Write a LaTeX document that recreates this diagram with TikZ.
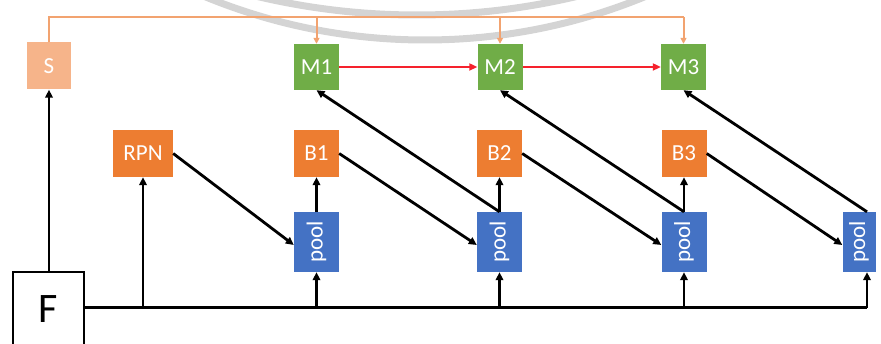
\documentclass[tikz,border=0pt]{standalone}
\usepackage{fontspec}
\setmainfont{Carlito}
\usetikzlibrary{arrows.meta}

\definecolor{boxgreen}{HTML}{70AD47}
\definecolor{boxorange}{HTML}{ED7D31}
\definecolor{boxblue}{HTML}{4472C4}
\definecolor{lightorange}{HTML}{F6B48A}
\definecolor{linkorange}{HTML}{F2A370}
\definecolor{linkred}{HTML}{F5222D}
\definecolor{ringgray}{HTML}{D4D4D4}

\tikzset{
  unit/.style={inner sep=0pt, text=white, font=\fontsize{23pt}{23pt}\selectfont},
  mbox/.style={unit, fill=boxgreen, minimum width=45pt, minimum height=46pt},
  bbox/.style={unit, fill=boxorange, minimum width=45pt, minimum height=47pt},
  pbox/.style={unit, fill=boxblue, minimum width=45pt, minimum height=60pt},
  sbox/.style={unit, fill=lightorange, minimum width=44pt, minimum height=47pt},
  fbox/.style={draw=black, line width=2.8pt, fill=white, inner sep=0pt,
               minimum width=71pt, minimum height=75pt,
               font=\fontsize{42pt}{42pt}\selectfont},
  flow/.style={line width=2.8pt, draw=black, -{Triangle[length=8pt,width=7.5pt]}},
  bus/.style={line width=3pt, draw=black},
  chain/.style={line width=2.4pt, draw=linkred, -{Triangle[length=8pt,width=7pt]}},
  feed/.style={line width=2pt, draw=linkorange},
  feedtip/.style={feed, -{Triangle[length=6pt,width=6pt]}},
  ring/.style={line width=7pt, draw=ringgray},
}

\begin{document}
\begin{tikzpicture}[x=1pt, y=-1pt]
  \useasboundingbox (0,0) rectangle (881,344);

  % faint rings in the background
  \begin{scope}
    \clip (0,0) rectangle (881,344);
    \draw[ring] (425,-538) circle[radius=578];
    \draw[ring] (417,-676) circle[radius=691];
  \end{scope}

  % boxes
  \node[sbox] (S) at (49,66) {S};
  \node[mbox] (M1) at (316.5,67) {M1};
  \node[mbox] (M2) at (500,67) {M2};
  \node[mbox] (M3) at (683.5,67) {M3};

  \node[bbox, minimum width=60pt] (RPN) at (143,153.5) {RPN};
  \node[bbox] (B1) at (316.5,153.5) {B1};
  \node[bbox] (B2) at (499.5,153.5) {B2};
  \node[bbox] (B3) at (684,153.5) {B3};

  \node[pbox] (P1) at (316.5,242) {\rotatebox{90}{pool}};
  \node[pbox] (P2) at (499.5,242) {\rotatebox{90}{pool}};
  \node[pbox] (P3) at (684,242) {\rotatebox{90}{pool}};
  \node[pbox, minimum width=33pt] (P4) at (859,242) {\rotatebox{90}{pool}};

  \node[fbox] (F) at (48.5,309.5) {F};

  % feature bus from F
  \coordinate (busend) at (867,308);
  \draw[bus] (F.east |- busend) -- (busend);
  \draw[flow] (busend) -- (busend |- P4.south);
  \draw[flow] (RPN.south |- busend) -- (RPN.south);
  \draw[flow] (P1.south |- busend) -- (P1.south);
  \draw[flow] (P2.south |- busend) -- (P2.south);
  \draw[flow] (P3.south |- busend) -- (P3.south);
  \draw[flow] (F.north -| S.south) -- (S.south);

  % pooled features to boxes
  \draw[flow] (P1.north) -- (B1.south);
  \draw[flow] (P2.north) -- (B2.south);
  \draw[flow] (P3.north) -- (B3.south);

  % boxes to the next pooling stage
  \draw[flow] (RPN.east) -- ([yshift=-3pt]P1.west);
  \draw[flow] (B1.east) -- ([yshift=-3pt]P2.west);
  \draw[flow] (B2.east) -- ([yshift=-3pt]P3.west);
  \draw[flow] (B3.east) -- ([yshift=-3pt]P4.west);

  % pooled features to the M stages
  \draw[flow] (P2.north) -- (M1.south);
  \draw[flow] (P3.north) -- (M2.south);
  \draw[flow] ([xshift=8pt]P4.north) -- (M3.south);

  % chain between the M stages
  \draw[chain] (M1) -- (M2);
  \draw[chain] (M2) -- (M3);

  % feed from S to every M stage
  \coordinate (top) at (0,17);
  \draw[feed] (S.north) |- (M3.north |- top);
  \draw[feedtip] (M1.north |- top) -- (M1.north);
  \draw[feedtip] (M2.north |- top) -- (M2.north);
  \draw[feedtip] (M3.north |- top) -- (M3.north);
\end{tikzpicture}
\end{document}
